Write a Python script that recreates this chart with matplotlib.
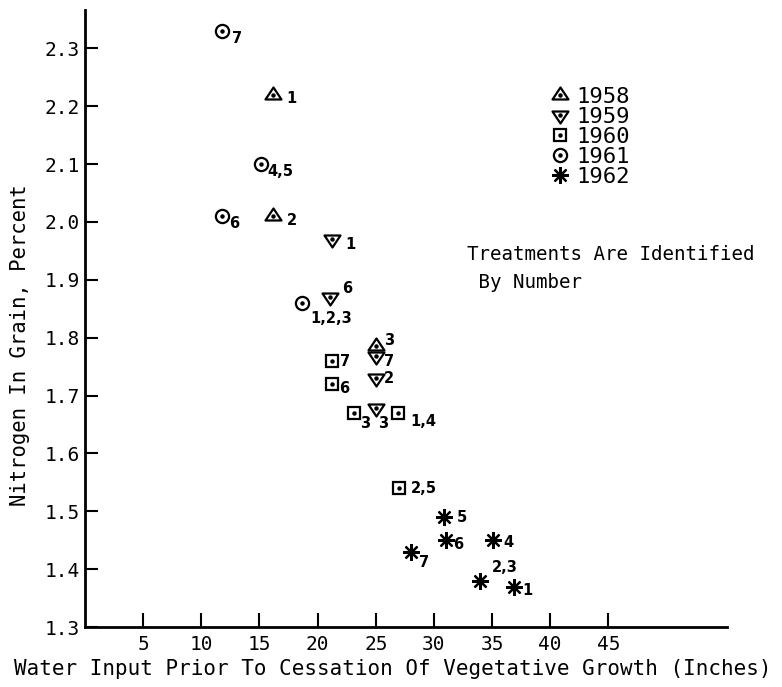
import matplotlib
matplotlib.use("Agg")
import matplotlib.pyplot as plt
from matplotlib.lines import Line2D
from matplotlib.path import Path

plt.rcParams['font.family'] = ['DejaVu Sans Mono', 'DejaVu Sans']

# water input (inches), nitrogen (%), treatment label -- per year
x_1958 = [16.2, 16.2, 25.0]
y_1958 = [2.22, 2.01, 1.785]
lab_1958 = ['1', '2', '3']

x_1959 = [21.2, 21.1, 25.0, 25.0, 25.0]
y_1959 = [1.97, 1.87, 1.768, 1.73, 1.678]
lab_1959 = ['1', '6', '7', '2', '3']

x_1960 = [21.2, 21.2, 23.1, 26.9, 27.0]
y_1960 = [1.76, 1.72, 1.67, 1.67, 1.54]
lab_1960 = ['7', '6', '3', '1,4', '2,5']

x_1961 = [11.8, 15.1, 11.8, 18.7]
y_1961 = [2.33, 2.10, 2.01, 1.86]
lab_1961 = ['7', '4,5', '6', '1,2,3']

x_1962 = [30.9, 31.0, 28.0, 35.1, 34.0, 36.9]
y_1962 = [1.49, 1.45, 1.43, 1.45, 1.38, 1.37]
lab_1962 = ['5', '6', '7', '4', '2,3', '1']

# label offsets in pixels (dx right, dy down)
off_1958 = [(13, 4), (13, 4), (8, -6)]
off_1959 = [(14, 5), (12, -9), (8, 5), (8, 0), (2, 15)]
off_1960 = [(8, 1), (8, 5), (6, 11), (12, 9), (12, 0)]
off_1961 = [(10, 8), (7, 7), (7, 7), (8, 16)]
off_1962 = [(12, 0), (8, 4), (8, 11), (10, 2), (11, -13), (8, 4)]

# flat triangles centred on their centroid so the dot sits in the middle
tri_up = Path([(0, 1.0), (-1, -0.5), (1, -0.5), (0, 1.0)],
              [Path.MOVETO, Path.LINETO, Path.LINETO, Path.CLOSEPOLY])
tri_dn = Path([(0, -1.0), (-1, 0.5), (1, 0.5), (0, -1.0)],
              [Path.MOVETO, Path.LINETO, Path.LINETO, Path.CLOSEPOLY])

fig = plt.figure(figsize=(7.82, 6.87), dpi=100)
ax = fig.add_axes([0.1087, 0.0873, 0.821, 0.898])

k = dict(color='black', linestyle='none', markerfacecolor='none', markeredgewidth=1.6)
dot = dict(color='black', linestyle='none', marker='o', markersize=2.2)

series = [
    (x_1958, y_1958, lab_1958, off_1958, tri_up, 11.5, True, '1958'),
    (x_1959, y_1959, lab_1959, off_1959, tri_dn, 11.5, True, '1959'),
    (x_1960, y_1960, lab_1960, off_1960, 's', 8.5, True, '1960'),
    (x_1961, y_1961, lab_1961, off_1961, 'o', 9.5, True, '1961'),
    (x_1962, y_1962, lab_1962, off_1962, (8, 2, 0), 12, False, '1962'),
]

for xs, ys, labs, offs, m, ms, has_dot, name in series:
    ax.plot(xs, ys, marker=m, markersize=ms, **k)
    if has_dot:
        ax.plot(xs, ys, **dot)
    for xv, yv, t, (dx, dy) in zip(xs, ys, labs, offs):
        ax.annotate(t, (xv, yv), xytext=(dx * 0.72, -dy * 0.72), textcoords='offset points',
                    ha='left', va='center', fontsize=10.5, fontweight='bold',
                    family='DejaVu Sans')

names = [s[7] for s in series]
leg_handles = []
for s in series:
    m, ms, has_dot = s[4], s[5], s[6]
    h1 = Line2D([], [], marker=m, markersize=ms, **k)
    if has_dot:
        leg_handles.append((h1, Line2D([], [], **dot)))
    else:
        leg_handles.append(h1)
ax.legend(leg_handles, names, loc='upper left', bbox_to_anchor=(0.722, 0.876),
          frameon=False, fontsize=16, handlelength=1.0, handletextpad=0.25,
          labelspacing=0.0, borderpad=0, borderaxespad=0)

ax.text(0.595, 0.62, 'Treatments Are Identified\n By Number', transform=ax.transAxes,
        fontsize=13.8, ha='left', va='top', linespacing=1.6)

ax.set_xlim(0, 55.2)
ax.set_ylim(1.3, 2.366)
ax.set_xticks([5, 10, 15, 20, 25, 30, 35, 40, 45])
ax.set_yticks([1.3, 1.4, 1.5, 1.6, 1.7, 1.8, 1.9, 2.0, 2.1, 2.2, 2.3])
ax.set_yticklabels(['%.1f' % v for v in ax.get_yticks()])
ax.tick_params(direction='in', length=10, width=1.5, labelsize=14, pad=6)
ax.tick_params(axis='y', length=9, pad=4)
for s in ['top', 'right']:
    ax.spines[s].set_visible(False)
for s in ['left', 'bottom']:
    ax.spines[s].set_linewidth(2)

ax.set_xlabel('Water Input Prior To Cessation Of Vegetative Growth (Inches)', fontsize=15)
ax.xaxis.set_label_coords(0.48, -0.052)
ax.set_ylabel('Nitrogen In Grain, Percent', fontsize=14.8)
ax.yaxis.set_label_coords(-0.085, 0.457)

fig.savefig('out.png', dpi=100)
